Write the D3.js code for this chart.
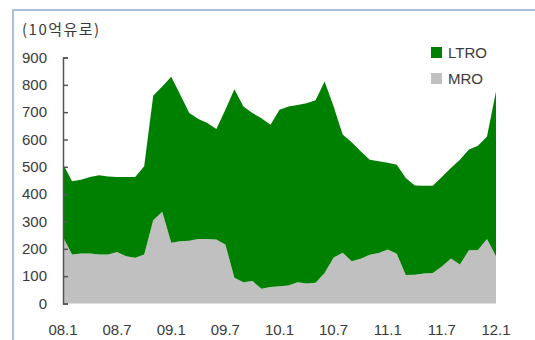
<!DOCTYPE html>
<html>
<head>
<meta charset="utf-8">
<script src="https://cdn.jsdelivr.net/npm/d3@7"></script>
<style>
  body { margin: 0; background: #fff; }
  text { font-family: "Liberation Sans", Arial, sans-serif; fill: #3a3a3a; }
</style>
</head>
<body>
<div class="chart"></div>
<script>
// monthly, 08.1 .. 12.1
var months = d3.range(0, 49);
var tickLabels = ["08.1", "08.7", "09.1", "09.7", "10.1", "10.7", "11.1", "11.7", "12.1"];
var tickMonths = [0, 6, 12, 18, 24, 30, 36, 42, 48];
var yTicks = [0, 100, 200, 300, 400, 500, 600, 700, 800, 900];

var mro = [243, 179, 183, 183, 179, 179, 188, 173, 167, 179,
  305, 336, 222, 228, 230, 236, 236, 234, 216, 94,
  78, 82, 54, 60, 63, 66, 78, 73, 76, 112,
  168, 186, 155, 164, 178, 185, 198, 182, 104, 105,
  110, 112, 135, 165, 143, 195, 196, 236, 173];

var ltro = [267, 268, 270, 280, 290, 286, 275, 290, 296, 323,
  455, 458, 608, 536, 467, 439, 424, 404, 493, 690,
  643, 615, 624, 594, 646, 655, 648, 660, 668, 700,
  553, 432, 435, 393, 348, 335, 317, 326, 355, 327,
  321, 319, 328, 331, 383, 368, 381, 375, 603];

var seriesNames = ["MRO", "LTRO"];
var colors = { MRO: "#c0c0c0", LTRO: "#008000" };

var svgWidth = 535;
var svgHeight = 340;

var svg = d3.select(".chart")
  .append("svg")
  .attr("width", svgWidth)
  .attr("height", svgHeight);

// light blue frame (left + top)
svg.append("path")
  .attr("d", "M13,340 V10 H535")
  .attr("fill", "none")
  .attr("stroke", "#a9bfdc")
  .attr("stroke-width", 2);

var xScale = d3.scaleLinear().domain([0, 48]).range([63, 496]);
var yScale = d3.scaleLinear().domain([0, 900]).range([303.5, 57.5]);

var table = months.map(function(m) {
  return { m: m, MRO: mro[m], LTRO: ltro[m] };
});

var stacked = d3.stack().keys(seriesNames)(table);

var area = d3.area()
  .x(function(d) { return xScale(d.data.m); })
  .y0(function(d) { return yScale(d[0]); })
  .y1(function(d) { return yScale(d[1]); });

svg.selectAll(".layer")
  .data(stacked)
  .enter()
  .append("path")
  .attr("class", "layer")
  .attr("d", area)
  .attr("fill", function(d) { return colors[d.key]; });

// y axis with inward ticks
var leftAxis = d3.axisRight(yScale)
  .tickValues(yTicks)
  .tickSize(5)
  .tickFormat("");

var yAxis = svg.append("g")
  .attr("transform", "translate(63,0)")
  .call(leftAxis);
yAxis.select(".domain").attr("stroke", "#555").attr("stroke-width", 1.5);
yAxis.selectAll(".tick line").attr("stroke", "#555").attr("stroke-width", 1.5);

svg.selectAll(".ylab")
  .data(yTicks)
  .enter()
  .append("text")
  .attr("class", "ylab")
  .attr("x", 47)
  .attr("y", function(d) { return yScale(d); })
  .attr("dy", "0.35em")
  .attr("text-anchor", "end")
  .attr("font-size", "15px")
  .text(function(d) { return d; });

// x labels
svg.selectAll(".xlab")
  .data(tickMonths)
  .enter()
  .append("text")
  .attr("class", "xlab")
  .attr("x", function(d) { return xScale(d); })
  .attr("y", 330)
  .attr("dy", "0.35em")
  .attr("text-anchor", "middle")
  .attr("font-size", "15px")
  .text(function(d, i) { return tickLabels[i]; });

// unit label
svg.append("text")
  .attr("x", 22)
  .attr("y", 30)
  .attr("dy", "0.35em")
  .attr("font-size", "15px")
  .attr("letter-spacing", "1.5px")
  .style("font-family", "'Noto Sans CJK KR', sans-serif")
  .text("(10억유로)");

// legend
var legendItems = ["LTRO", "MRO"];
var legend = svg.selectAll(".legend")
  .data(legendItems)
  .enter()
  .append("g")
  .attr("class", "legend")
  .attr("transform", function(d, i) { return "translate(431," + (47 + i * 26) + ")"; });

legend.append("rect")
  .attr("width", 11)
  .attr("height", 11)
  .attr("fill", function(d) { return colors[d]; });

legend.append("text")
  .attr("x", 17)
  .attr("y", 5.5)
  .attr("dy", "0.35em")
  .attr("font-size", "15px")
  .text(function(d) { return d; });
</script>
</body>
</html>
